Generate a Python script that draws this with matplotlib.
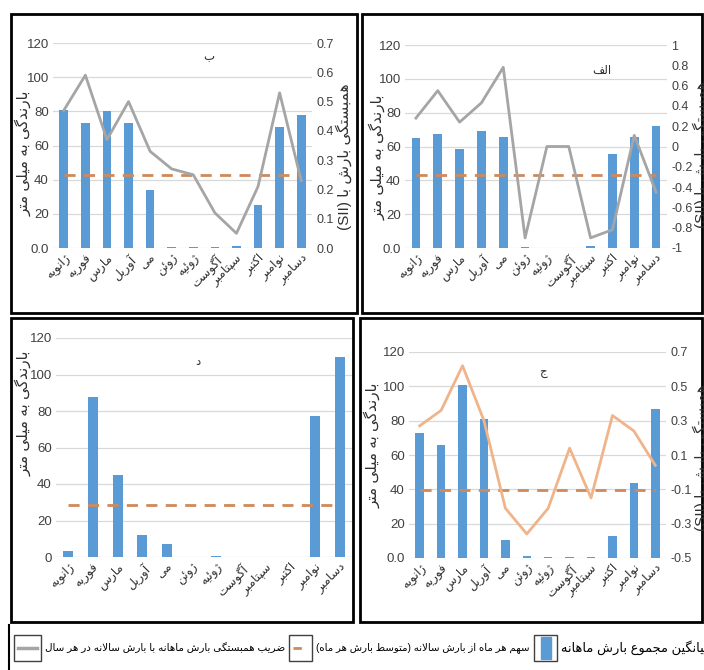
import numpy as np
import matplotlib
matplotlib.use("Agg")
import matplotlib.pyplot as plt
from matplotlib.patches import Rectangle
from matplotlib.lines import Line2D

plt.rcParams['font.family'] = ['Liberation Sans', 'DejaVu Sans']

months = ["ژانویه", "فوریه", "مارس", "آوریل", "می", "ژوئن", "ژوئیه",
          "آگوست", "سپتامبر", "اکتبر", "نوامبر", "دسامبر"]

# panel ب (top left)
rain_b = [81, 73, 80, 73, 34, 0.5, 0.5, 0.5, 1.0, 25, 71, 78]
mean_b = 43
corr_b = [0.47, 0.59, 0.37, 0.50, 0.33, 0.27, 0.25, 0.12, 0.05, 0.21, 0.53, 0.23]

# panel الف (top right)
rain_a = [65, 67.5, 58.5, 69, 65.5, 0.5, 0, 0, 1.2, 55.5, 65.5, 72]
mean_a = 43.3
corr_a = [0.28, 0.55, 0.24, 0.43, 0.78, -0.90, 0.0, 0.0, -0.90, -0.82, 0.11, -0.45]

# panel د (bottom left)
rain_d = [3.5, 87.5, 45, 12, 7, 0, 0.8, 0, 0, 0, 77.5, 109.5]
mean_d = 28.3

# panel ج (bottom right)
rain_c = [73, 66, 101, 81, 10.5, 1.2, 0.5, 0.5, 0.5, 13, 43.5, 87]
mean_c = 39.5
corr_c = [0.27, 0.36, 0.62, 0.30, -0.21, -0.36, -0.21, 0.14, -0.15, 0.33, 0.24, 0.04]

ylabel_left = "بارندگی به میلی متر"
ylabel_right = "همبستگی بارش با (SII)"
legend_texts = ["ضریب همبستگی بارش ماهانه با بارش سالانه در هر سال",
                "سهم هر ماه از بارش سالانه (متوسط بارش هر ماه)",
                "میانگین مجموع بارش ماهانه"]

BLUE = "#5b9bd5"
ORANGE = "#d0895a"
GRAY = "#a5a5a5"
TAN = "#f0b48a"

# --- tiny persian shaper (matplotlib has no arabic shaping) ---
DUAL = {
    '\u0628': (0xFE8F, 0xFE90, 0xFE91, 0xFE92), '\u067E': (0xFB56, 0xFB57, 0xFB58, 0xFB59),
    '\u062A': (0xFE95, 0xFE96, 0xFE97, 0xFE98), '\u062B': (0xFE99, 0xFE9A, 0xFE9B, 0xFE9C),
    '\u062C': (0xFE9D, 0xFE9E, 0xFE9F, 0xFEA0), '\u0686': (0xFB7A, 0xFB7B, 0xFB7C, 0xFB7D),
    '\u062D': (0xFEA1, 0xFEA2, 0xFEA3, 0xFEA4), '\u062E': (0xFEA5, 0xFEA6, 0xFEA7, 0xFEA8),
    '\u0633': (0xFEB1, 0xFEB2, 0xFEB3, 0xFEB4), '\u0634': (0xFEB5, 0xFEB6, 0xFEB7, 0xFEB8),
    '\u0635': (0xFEB9, 0xFEBA, 0xFEBB, 0xFEBC), '\u0636': (0xFEBD, 0xFEBE, 0xFEBF, 0xFEC0),
    '\u0637': (0xFEC1, 0xFEC2, 0xFEC3, 0xFEC4), '\u0638': (0xFEC5, 0xFEC6, 0xFEC7, 0xFEC8),
    '\u0639': (0xFEC9, 0xFECA, 0xFECB, 0xFECC), '\u063A': (0xFECD, 0xFECE, 0xFECF, 0xFED0),
    '\u0641': (0xFED1, 0xFED2, 0xFED3, 0xFED4), '\u0642': (0xFED5, 0xFED6, 0xFED7, 0xFED8),
    '\u06A9': (0xFB8E, 0xFB8F, 0xFB90, 0xFB91), '\u06AF': (0xFB92, 0xFB93, 0xFB94, 0xFB95),
    '\u0644': (0xFEDD, 0xFEDE, 0xFEDF, 0xFEE0), '\u0645': (0xFEE1, 0xFEE2, 0xFEE3, 0xFEE4),
    '\u0646': (0xFEE5, 0xFEE6, 0xFEE7, 0xFEE8), '\u0647': (0xFEE9, 0xFEEA, 0xFEEB, 0xFEEC),
    '\u06CC': (0xFBFC, 0xFBFD, 0xFBFE, 0xFBFF), '\u0626': (0xFE89, 0xFE8A, 0xFE8B, 0xFE8C),
}
RIGHT = {
    '\u0627': (0xFE8D, 0xFE8E), '\u0622': (0xFE81, 0xFE82), '\u062F': (0xFEA9, 0xFEAA),
    '\u0630': (0xFEAB, 0xFEAC), '\u0631': (0xFEAD, 0xFEAE), '\u0632': (0xFEAF, 0xFEB0),
    '\u0698': (0xFB8A, 0xFB8B), '\u0648': (0xFEED, 0xFEEE),
}


def shape(s):
    s = s.replace('\u064A', '\u06CC').replace('\u0643', '\u06A9')
    out = []
    i = 0
    while i < len(s):
        c = s[i]
        prev_joins = i > 0 and s[i - 1] in DUAL
        nxt = s[i + 1] if i + 1 < len(s) else ''
        if c == '\u0644' and nxt in ('\u0627', '\u0622'):
            lig = (0xFEFB, 0xFEFC) if nxt == '\u0627' else (0xFEF5, 0xFEF6)
            out.append(chr(lig[1] if prev_joins else lig[0]))
            i += 2
            continue
        if c in DUAL:
            nxt_joins = nxt in DUAL or nxt in RIGHT
            f = DUAL[c]
            code = f[3] if prev_joins and nxt_joins else f[1] if prev_joins else f[2] if nxt_joins else f[0]
            out.append(chr(code))
        elif c in RIGHT:
            out.append(chr(RIGHT[c][1] if prev_joins else RIGHT[c][0]))
        elif c != '\u200c':
            out.append(c)
        i += 1
    return ''.join(out)


def fa(s):
    s = shape(s)
    runs = []
    for c in s:
        ltr = c.isascii() and c.isalnum()
        if runs and runs[-1][0] == ltr:
            runs[-1][1] += c
        else:
            runs.append([ltr, c])
    mirror = {'(': ')', ')': '('}
    res = ''
    for ltr, txt in reversed(runs):
        res += txt if ltr else ''.join(mirror.get(c, c) for c in reversed(txt))
    return res


W, H = 704, 670


def rect(x0, y0, x1, y1):
    return [x0 / W, 1 - y1 / H, (x1 - x0) / W, (y1 - y0) / H]


fig = plt.figure(figsize=(W / 100, H / 100), dpi=100)
renderer = fig.canvas.get_renderer()
x = np.arange(12)


def fit(t, length):
    # scale font so the text spans `length` pixels wide
    bb = t.get_window_extent(renderer)
    t.set_fontsize(t.get_fontsize() * length / bb.width)


def panel(pos, rain, mean, title, title_xy, zero_lbl="0.0"):
    ax = fig.add_axes(rect(*pos))
    ax.bar(x, rain, width=0.4, color=BLUE, zorder=2)
    ax.plot(x, np.full(12, mean), color=ORANGE, lw=2, dashes=(4, 3), zorder=3)
    ax.set_xlim(-0.5, 11.5)
    ax.set_ylim(0, 120)
    ax.set_yticks(np.arange(0, 121, 20))
    ax.set_yticklabels([zero_lbl] + [str(v) for v in range(20, 121, 20)])
    ax.yaxis.grid(True, color="#d9d9d9", lw=0.9, zorder=0)
    ax.set_axisbelow(True)
    for s in ax.spines.values():
        s.set_visible(False)
    ax.tick_params(length=0, labelsize=9.5, colors="#404040", pad=3)
    ax.set_xticks(x)
    ax.set_xticklabels([fa(m) for m in months], rotation=45, ha="right",
                       rotation_mode="anchor", fontsize=8.8, color="#303030")
    ax.text(title_xy[0], title_xy[1], fa(title), transform=ax.transAxes,
            fontsize=8.5, ha="center", va="center", color="#303030")
    return ax


def corr_axis(ax, corr, color, lim, ticks, labels):
    ax2 = ax.twinx()
    ax2.plot(x, corr, color=color, lw=2, zorder=4)
    ax2.set_ylim(*lim)
    ax2.set_yticks(ticks)
    ax2.set_yticklabels(labels)
    for s in ax2.spines.values():
        s.set_visible(False)
    ax2.tick_params(length=0, labelsize=9, colors="#404040", pad=3)
    return ax2


# top left - ب
ax = panel((53, 43, 312, 248), rain_b, mean_b, "ب", (0.6, 0.93))
corr_axis(ax, corr_b, GRAY, (0, 0.7), np.linspace(0, 0.7, 8),
          ["0.0", "0.1", "0.2", "0.3", "0.4", "0.5", "0.6", "0.7"])

# top right - الف
ax = panel((405, 45, 667, 248), rain_a, mean_a, "الف", (0.75, 0.87))
corr_axis(ax, corr_a, GRAY, (-1, 1), np.linspace(-1, 1, 11),
          ["-1", "-0.8", "-0.6", "-0.4", "-0.2", "0", "0.2", "0.4", "0.6", "0.8", "1"])

# bottom left - د
ax = panel((56, 338, 352, 557), rain_d, mean_d, "د", (0.48, 0.89), zero_lbl="0")

# bottom right - ج
ax = panel((409, 352, 666, 558), rain_c, mean_c, "ج", (0.52, 0.9))
corr_axis(ax, corr_c, TAN, (-0.5, 0.7), np.linspace(-0.5, 0.7, 7),
          ["-0.5", "-0.3", "-0.1", "0.1", "0.3", "0.5", "0.7"])

# axis titles
for px, py in [(23, 153), (377, 157), (23, 413), (372, 445)]:
    fig.text(px / W, 1 - py / H, fa(ylabel_left), rotation=90, ha="center",
             va="center", fontsize=11, color="#303030")
for px, py in [(344, 157), (701, 155), (701, 458)]:
    fig.text(px / W, 1 - py / H, fa(ylabel_right), rotation=90, ha="center",
             va="center", fontsize=11, color="#303030")

# panel frames
for x0, y0, x1, y1 in [(11, 14, 357, 313), (362, 14, 702, 313),
                       (11, 318, 353, 622), (360, 318, 702, 622)]:
    fig.add_artist(Rectangle((x0 / W, 1 - y1 / H), (x1 - x0) / W, (y1 - y0) / H,
                             transform=fig.transFigure, fill=False, ec="black", lw=2))

# legend strip at the bottom
fig.add_artist(Line2D([9 / W, 9 / W], [0, 1 - 625 / H], transform=fig.transFigure,
                      color="black", lw=1.5))
boxes = [(14, 41), (289, 312), (534, 557)]
for (bx0, bx1) in boxes:
    fig.add_artist(Rectangle((bx0 / W, 1 - 661 / H), (bx1 - bx0) / W, 26 / H,
                             transform=fig.transFigure, fill=False, ec="#404040", lw=1))
fig.add_artist(Line2D([18 / W, 37 / W], [1 - 648 / H] * 2, transform=fig.transFigure,
                      color=GRAY, lw=2.5))
fig.add_artist(Line2D([293 / W, 309 / W], [1 - 648 / H] * 2, transform=fig.transFigure,
                      color=ORANGE, lw=2, dashes=(3, 3)))
fig.add_artist(Rectangle((541 / W, 1 - 659 / H), 10 / W, 22 / H,
                         transform=fig.transFigure, color=BLUE))
for tx, t, ln in zip([45, 316, 561], legend_texts, [240, 213, 150]):
    txt = fig.text(tx / W, 1 - 648 / H, fa(t), ha="left", va="center", fontsize=9,
                   color="black")
    fit(txt, ln)

fig.savefig("out.png", dpi=100)
